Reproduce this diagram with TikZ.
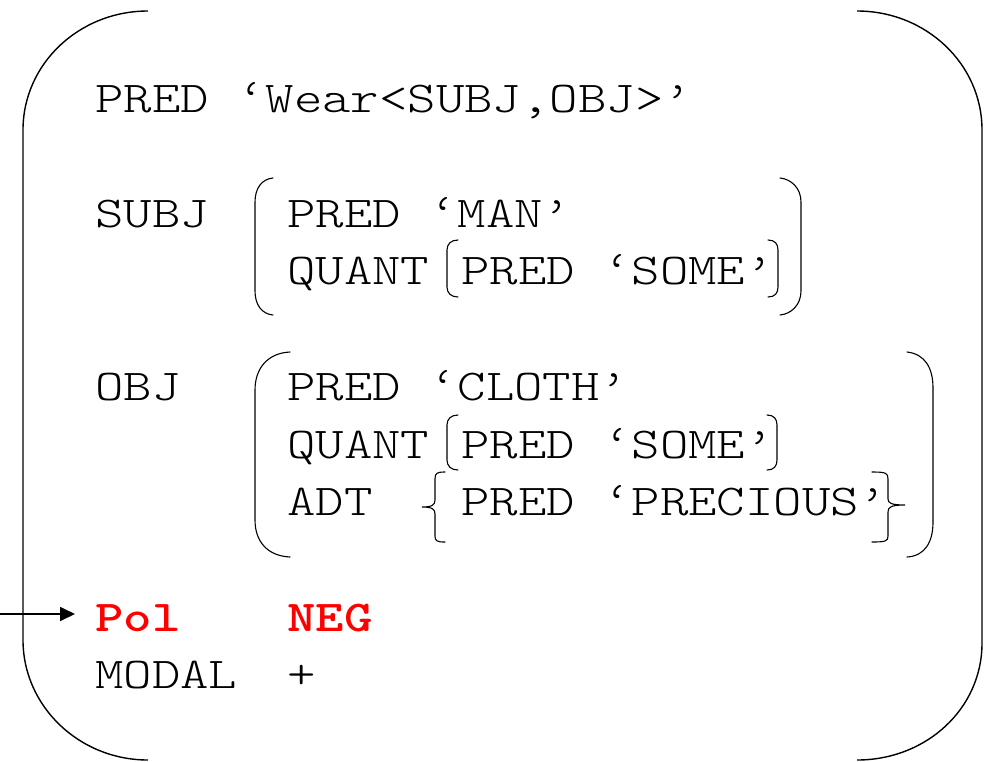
\documentclass[tikz,border=0pt]{standalone}
\usepackage{fontspec}
\usepackage{graphicx}
\usetikzlibrary{arrows.meta}
\newcommand{\wtxt}[1]{\scalebox{1.23}[1]{#1}}
\begin{document}
\begin{tikzpicture}[x=1pt,y=-1pt,
  txt/.style={anchor=base west, inner sep=0pt, font=\ttfamily\fontseries{l}\fontsize{44}{53}\selectfont},
  boldred/.style={anchor=base west, inner sep=0pt, text=red, font=\ttfamily\bfseries\fontsize{44}{53}\selectfont},
  frame/.style={line width=1.4pt},
  brk/.style={line width=1.1pt, line cap=round},
  conn/.style={line width=1.8pt, -{Triangle[length=15pt,width=14pt]}}]
\useasboundingbox (0,0) rectangle (1000,761);

% outer brackets
\draw[frame] (148,11) .. controls (79,11) and (23,64) .. (23,130) -- (23,640)
  .. controls (23,706) and (79,760) .. (148,760);
\draw[frame] (857,11) .. controls (926,11) and (982,64) .. (982,130) -- (982,643)
  .. controls (982,709) and (926,760) .. (857,760);

% texts
\node[txt] (l1) at (95,112) {\wtxt{PRED ‘Wear<SUBJ,OBJ>’}};
\node[txt] (subj) at (95,227) {\wtxt{SUBJ}};
\node[txt] (s1) at (287,227) {\wtxt{PRED ‘MAN’}};
\node[txt] (s2) at (287,284) {\wtxt{QUANT}};
\node[txt] (s2v) at (461,284) {\wtxt{PRED ‘SOME’}};
\node[txt] (obj) at (95,400) {\wtxt{OBJ}};
\node[txt] (o1) at (287,400) {\wtxt{PRED ‘CLOTH’}};
\node[txt] (o2) at (287,458) {\wtxt{QUANT}};
\node[txt] (o2v) at (461,458) {\wtxt{PRED ‘SOME’}};
\node[txt] (o3) at (287,515) {\wtxt{ADT}};
\node[txt] (o3v) at (461,515) {\wtxt{PRED ‘PRECIOUS’}};
\node[boldred] (pol) at (95,631) {\wtxt{Pol}};
\node[boldred] (neg) at (287,631) {\wtxt{NEG}};
\node[txt] (modal) at (95,688) {\wtxt{MODAL}};
\node[txt] (plus) at (287,688) {\wtxt{+}};

% SUBJ bracket
\draw[brk] (273,178) .. controls (262,179) and (255,188) .. (255,202) -- (255,291)
  .. controls (255,305) and (262,314) .. (273,315);
\draw[brk] (780,178) .. controls (791,179) and (801,188) .. (801,202) -- (801,291)
  .. controls (801,305) and (791,314) .. (780,315);
% SUBJ QUANT bracket
\draw[brk] (458,240) .. controls (451,240) and (447,244) .. (447,250) -- (447,287)
  .. controls (447,293) and (451,297) .. (458,297);
\draw[brk] (768,240) .. controls (775,240) and (778,244) .. (778,250) -- (778,287)
  .. controls (778,293) and (775,297) .. (768,297);

% OBJ bracket
\draw[brk] (290,352) .. controls (268,353) and (255,368) .. (255,390) -- (255,520)
  .. controls (255,542) and (268,556) .. (290,557);
\draw[brk] (907,352) .. controls (925,354) and (933,368) .. (933,388) -- (933,522)
  .. controls (933,542) and (925,556) .. (907,557);
% OBJ QUANT bracket
\draw[brk] (458,415) .. controls (451,415) and (447,419) .. (447,425) -- (447,460)
  .. controls (447,466) and (451,470) .. (458,470);
\draw[brk] (767,415) .. controls (774,415) and (777,419) .. (777,425) -- (777,460)
  .. controls (777,466) and (774,470) .. (767,470);
% ADT braces
\draw[brk] (445,472) .. controls (437,472) and (435,473) .. (435,479) -- (435,500)
  .. controls (435,505) and (432,507) .. (422,507)
  .. controls (432,507) and (435,509) .. (435,514) -- (435,536)
  .. controls (435,541) and (437,542) .. (445,542);
\draw[brk] (872,472) .. controls (886,472) and (888,473) .. (888,479) -- (888,499)
  .. controls (888,503) and (891,505) .. (905,505)
  .. controls (891,505) and (888,507) .. (888,512) -- (888,536)
  .. controls (888,541) and (886,542) .. (872,542);

% arrow
\coordinate (arrowtail) at (0,614);
\draw[conn, shorten >=20pt] (arrowtail) -- (arrowtail -| pol.west);
\end{tikzpicture}
\end{document}
